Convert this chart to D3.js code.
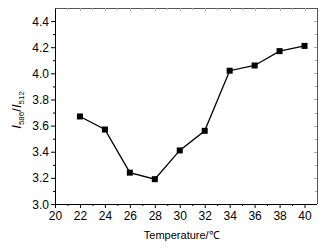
<!DOCTYPE html>
<html>
<head>
<meta charset="utf-8">
<script src="https://cdn.jsdelivr.net/npm/d3@7"></script>
<style>
  html, body { margin: 0; padding: 0; background: #fff; overflow: hidden; }
  svg { display: block; }
  text { font-family: Arial, "Liberation Sans", sans-serif; }
</style>
</head>
<body>
<svg id="chart"></svg>
<script>
const temps = [22, 24, 26, 28, 30, 32, 34, 36, 38, 40];
const ratios = [3.67, 3.57, 3.24, 3.19, 3.41, 3.56, 4.02, 4.06, 4.17, 4.21];
const xTicks = [20, 22, 24, 26, 28, 30, 32, 34, 36, 38, 40];
const yTicks = [3.0, 3.2, 3.4, 3.6, 3.8, 4.0, 4.2, 4.4];

const width = 330, height = 248;
const margin = { top: 8, right: 13, bottom: 44, left: 55 };
const innerWidth = width - margin.left - margin.right;
const innerHeight = height - margin.top - margin.bottom;

const svg = d3.select('#chart')
  .attr('width', width)
  .attr('height', height);

const g = svg.append('g')
  .attr('transform', `translate(${margin.left},${margin.top})`);

const x = d3.scaleLinear().domain([20, 41]).range([0, innerWidth]);
const y = d3.scaleLinear().domain([3.0, 4.5]).range([innerHeight, 0]);

const xMinor = d3.range(21, 41, 2);
const yMinor = d3.range(3.1, 4.5, 0.2);

// top / right frame, light ticks inside
g.append('line').attr('x1', 0).attr('x2', innerWidth).attr('y1', 0.5).attr('y2', 0.5)
  .attr('stroke', '#555');
g.append('line').attr('x1', innerWidth + 0.5).attr('x2', innerWidth + 0.5).attr('y1', 0).attr('y2', innerHeight)
  .attr('stroke', '#555');
g.selectAll('.tt').data(xTicks.concat(xMinor)).enter().append('line')
  .attr('x1', d => Math.round(x(d)) + 0.5).attr('x2', d => Math.round(x(d)) + 0.5)
  .attr('y1', 0).attr('y2', d => xTicks.includes(d) ? 3 : 2)
  .attr('stroke', '#aaa');
g.selectAll('.rt').data(yTicks.concat(yMinor)).enter().append('line')
  .attr('y1', d => Math.round(y(d)) + 0.5).attr('y2', d => Math.round(y(d)) + 0.5)
  .attr('x1', innerWidth).attr('x2', d => innerWidth - (yTicks.some(t => Math.abs(t - d) < 1e-6) ? 3 : 2))
  .attr('stroke', '#aaa');

// bottom axis
const xAxis = g.append('g')
  .attr('transform', `translate(0,${innerHeight})`)
  .call(d3.axisBottom(x).tickValues(xTicks).tickSize(4).tickSizeOuter(0).tickPadding(2));
xAxis.append('g').selectAll('line').data(xMinor).enter().append('line')
  .attr('x1', d => x(d) + 0.5).attr('x2', d => x(d) + 0.5).attr('y1', 0).attr('y2', 2)
  .attr('stroke', '#000');
xAxis.selectAll('.tick text').attr('dy', null).attr('y', 16);

// left axis
const yAxis = g.append('g')
  .call(d3.axisLeft(y).tickValues(yTicks).tickFormat(d3.format('.1f')).tickSize(4).tickSizeOuter(0).tickPadding(2));
yAxis.append('g').selectAll('line').data(yMinor).enter().append('line')
  .attr('y1', d => y(d) + 0.5).attr('y2', d => y(d) + 0.5).attr('x1', 0).attr('x2', -2)
  .attr('stroke', '#000');
yAxis.selectAll('.tick text').attr('dy', null).attr('y', 4);

[xAxis, yAxis].forEach(a => {
  a.selectAll('text').attr('font-size', 12).attr('fill', '#000')
    .style('font-family', 'Arial, "Liberation Sans", sans-serif');
  a.selectAll('path, line').attr('stroke', '#000');
});
xAxis.selectAll('.domain').attr('d', `M0,0.5H${innerWidth}`);

// line + markers
const line = d3.line().x((d, i) => x(temps[i])).y(d => y(d));
g.append('path').datum(ratios)
  .attr('d', line)
  .attr('fill', 'none')
  .attr('stroke', '#000')
  .attr('stroke-width', 1.3);

g.selectAll('.pt').data(ratios).enter().append('rect')
  .attr('x', (d, i) => x(temps[i]) - 3)
  .attr('y', d => y(d) - 3)
  .attr('width', 6).attr('height', 6)
  .attr('fill', '#000');

// axis titles
svg.append('text')
  .attr('x', margin.left + x(30) + 2)
  .attr('y', 239)
  .attr('text-anchor', 'middle')
  .attr('font-size', 11)
  .text('Temperature/℃');

const yl = svg.append('text')
  .attr('transform', `translate(21,${margin.top + y(3.72)}) rotate(-90)`)
  .attr('text-anchor', 'middle')
  .attr('font-size', 13);
yl.append('tspan').attr('font-style', 'italic').text('I');
yl.append('tspan').attr('font-size', 8).attr('dy', 3).text('586');
yl.append('tspan').attr('dy', -3).text('/');
yl.append('tspan').attr('font-style', 'italic').text('I');
yl.append('tspan').attr('font-size', 8).attr('dy', 3).text('512');
</script>
</body>
</html>
